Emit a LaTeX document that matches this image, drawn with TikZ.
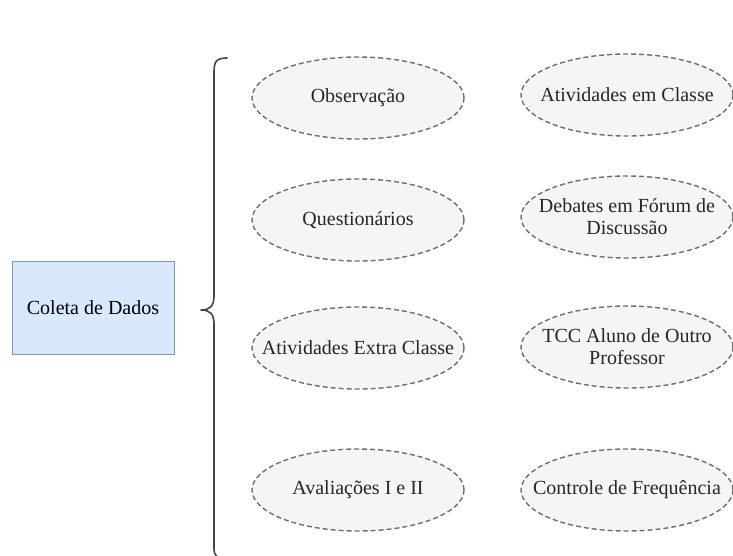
\documentclass[tikz,border=0pt]{standalone}
\usepackage{fontspec}
\setmainfont{Liberation Serif}
\usetikzlibrary{shapes.geometric}
\definecolor{boxfill}{HTML}{DAE8FC}
\definecolor{boxline}{HTML}{7E95B5}
\definecolor{ovalfill}{HTML}{F5F5F5}
\definecolor{ovalline}{HTML}{6E6E6E}
\definecolor{braceline}{HTML}{444444}
\tikzset{
  mainbox/.style={draw=boxline, fill=boxfill, line width=1pt,
    minimum width=162pt, minimum height=93pt, inner sep=0pt,
    font=\fontsize{20}{23}\selectfont},
  oval/.style={ellipse, draw=ovalline, fill=ovalfill, line width=1.4pt,
    dash pattern=on 5pt off 3pt, minimum width=212pt, minimum height=82pt,
    inner sep=0pt},
  ovaltext/.style={inner sep=0pt, align=center, text=black!85,
    font=\fontsize{20}{22}\selectfont},
}
\begin{document}
\begin{tikzpicture}[x=1pt,y=-1pt]
  \useasboundingbox (0,0) rectangle (733,555);
  \clip (0,0) rectangle (733,555);

  % left box
  \node[mainbox] (coleta) at (93,308) {Coleta de Dados};

  % curly brace grouping the methods
  \coordinate (tip) at (201,310);
  \draw[braceline, line width=1.6pt, line cap=round, line join=round]
    (227,58) .. controls (216,58) and (214,62) .. (214,72)
    -- (214,296) .. controls (214,306) and (210,310) .. (tip)
    .. controls (210,310) and (214,314) .. (214,324)
    -- (214,548) .. controls (214,556) and (216,558) .. (227,558);

  % data collection methods, left column
  \node[oval] (obs)   at (358,98)  {};
  \node[oval] (quest) at (358,220) {};
  \node[oval] (extra) at (358,348) {};
  \node[oval] (aval)  at (358,490) {};
  \node[ovaltext] (obsT)   at (obs)   {Observação};
  \node[ovaltext] (questT) at (quest) {Questionários};
  \node[ovaltext] (extraT) at (extra) {Atividades Extra Classe};
  \node[ovaltext] (avalT)  at (aval)  {Avaliações I e II};

  % right column
  \node[oval] (classe) at (627,95)  {};
  \node[oval] (forum)  at (627,217) {};
  \node[oval] (tcc)    at (627,347) {};
  \node[oval] (freq)   at (627,490) {};
  \node[ovaltext] (classeT) at (classe) {Atividades em Classe};
  \node[ovaltext] (forumT)  at (forum)  {Debates em Fórum de\\Discussão};
  \node[ovaltext] (tccT)    at (tcc)    {TCC Aluno de Outro\\Professor};
  \node[ovaltext] (freqT)   at (freq)   {Controle de Frequência};
\end{tikzpicture}
\end{document}
